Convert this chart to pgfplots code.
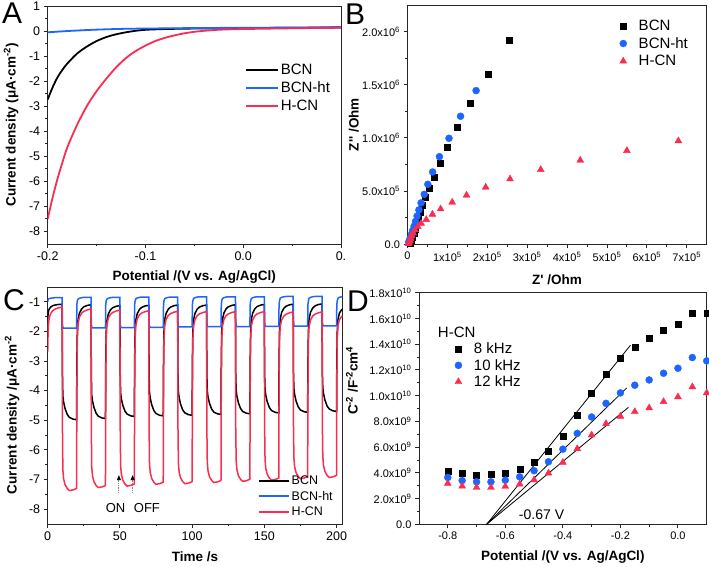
\documentclass[border=0pt]{standalone}
\usepackage{fontspec}
\setmainfont{Liberation Sans}
\usepackage{pgfplots}
\pgfplotsset{compat=1.18}
\usepackage{pgfplotstable}
\usetikzlibrary{arrows.meta}
\definecolor{cblue}{RGB}{30,100,255}
\definecolor{cred}{RGB}{250,45,80}

\pgfplotstableread{
x y
-0.200 -2.73
-0.195 -2.25
-0.190 -1.85
-0.185 -1.55
-0.180 -1.30
-0.170 -0.90
-0.160 -0.62
-0.150 -0.40
-0.140 -0.24
-0.130 -0.13
-0.120 -0.05
-0.110 0.01
-0.100 0.05
-0.080 0.08
-0.050 0.10
0.000 0.12
0.050 0.13
0.100 0.14
}\Abcn
\pgfplotstableread{
x y
-0.200 -0.05
-0.180 0.00
-0.160 0.04
-0.140 0.07
-0.120 0.09
-0.100 0.10
-0.050 0.12
0.000 0.13
0.050 0.14
0.100 0.16
}\Aht
\pgfplotstableread{
x y
-0.200 -7.50
-0.195 -6.65
-0.190 -5.90
-0.185 -5.25
-0.180 -4.65
-0.170 -3.75
-0.160 -3.00
-0.150 -2.40
-0.140 -1.90
-0.130 -1.45
-0.120 -1.08
-0.110 -0.80
-0.100 -0.58
-0.090 -0.40
-0.080 -0.27
-0.070 -0.17
-0.060 -0.09
-0.050 -0.03
-0.040 0.01
-0.030 0.04
-0.020 0.06
0.000 0.08
0.050 0.11
0.100 0.13
}\Ahcn

\pgfplotstableread{
x y
2.54e5 1.915e6
2.02e5 1.602e6
1.58e5 1.323e6
1.24e5 1.097e6
1.00e5 0.915e6
0.82e5 0.762e6
0.67e5 0.630e6
0.55e5 0.527e6
0.45e5 0.442e6
0.38e5 0.370e6
0.32e5 0.301e6
0.27e5 0.245e6
0.225e5 0.190e6
0.19e5 0.140e6
0.16e5 0.100e6
0.125e5 0.066e6
0.09e5 0.034e6
0.06e5 0.012e6
}\Bbcn
\pgfplotstableread{
x y
1.72e5 1.445e6
1.33e5 1.204e6
1.04e5 0.997e6
0.80e5 0.824e6
0.63e5 0.680e6
0.51e5 0.564e6
0.42e5 0.470e6
0.34e5 0.389e6
0.285e5 0.323e6
0.24e5 0.266e6
0.20e5 0.215e6
0.165e5 0.170e6
0.13e5 0.130e6
0.10e5 0.095e6
0.075e5 0.065e6
0.05e5 0.040e6
0.03e5 0.020e6
}\Bht
\pgfplotstableread{
x y
6.79e5 0.972e6
5.50e5 0.881e6
4.33e5 0.790e6
3.34e5 0.702e6
2.57e5 0.614e6
1.96e5 0.536e6
1.48e5 0.461e6
1.12e5 0.395e6
0.83e5 0.332e6
0.625e5 0.282e6
0.47e5 0.232e6
0.34e5 0.197e6
0.26e5 0.165e6
0.19e5 0.135e6
0.14e5 0.105e6
0.10e5 0.080e6
0.075e5 0.055e6
0.06e5 0.035e6
0.04e5 0.018e6
0.025e5 0.005e6
}\Bhcn

\pgfplotstableread{
t blue black red
0 -1.00 -1.60 -2.70
0.2 -0.93 -1.45 -2.20
0.5 -0.90 -1.32 -1.80
1 -0.89 -1.25 -1.55
2 -0.88 -1.18 -1.40
3.5 -0.87 -1.13 -1.30
5 -0.86 -1.11 -1.25
7.5 -0.86 -1.09 -1.20
10 -0.86 -1.08 -1.18
10.2 -1.74 -3.40 -5.20
10.5 -1.86 -4.18 -6.67
11 -1.89 -4.38 -6.97
12 -1.89 -4.60 -7.17
13.5 -1.89 -4.80 -7.30
15 -1.89 -4.90 -7.37
17.5 -1.89 -4.96 -7.35
20 -1.89 -4.98 -7.30
20.2 -1.10 -3.00 -4.00
20.5 -0.97 -2.00 -2.30
21 -0.91 -1.60 -1.74
22 -0.88 -1.38 -1.51
23.5 -0.86 -1.24 -1.38
25 -0.85 -1.17 -1.32
27.5 -0.85 -1.12 -1.27
30 -0.85 -1.10 -1.24
30.2 -1.73 -3.40 -5.20
30.5 -1.85 -4.14 -6.57
31 -1.88 -4.34 -6.87
32 -1.88 -4.56 -7.07
33.5 -1.88 -4.76 -7.20
35 -1.88 -4.86 -7.27
37.5 -1.88 -4.92 -7.25
40 -1.88 -4.94 -7.20
40.2 -1.10 -3.00 -4.00
40.5 -0.97 -2.00 -2.30
41 -0.91 -1.63 -1.78
42 -0.88 -1.41 -1.55
43.5 -0.86 -1.27 -1.42
45 -0.85 -1.20 -1.36
47.5 -0.85 -1.15 -1.31
50 -0.85 -1.13 -1.28
50.2 -1.72 -3.40 -5.20
50.5 -1.84 -4.07 -6.52
51 -1.87 -4.27 -6.82
52 -1.87 -4.49 -7.02
53.5 -1.87 -4.69 -7.15
55 -1.87 -4.79 -7.22
57.5 -1.87 -4.85 -7.20
60 -1.87 -4.87 -7.15
60.2 -1.10 -3.00 -4.00
60.5 -0.97 -2.00 -2.30
61 -0.90 -1.62 -1.80
62 -0.87 -1.40 -1.57
63.5 -0.85 -1.26 -1.44
65 -0.84 -1.19 -1.38
67.5 -0.84 -1.14 -1.33
70 -0.84 -1.12 -1.30
70.2 -1.71 -3.40 -5.20
70.5 -1.83 -4.05 -6.46
71 -1.86 -4.25 -6.76
72 -1.86 -4.47 -6.96
73.5 -1.86 -4.67 -7.09
75 -1.86 -4.77 -7.16
77.5 -1.86 -4.83 -7.14
80 -1.86 -4.85 -7.09
80.2 -1.10 -3.00 -4.00
80.5 -0.97 -2.00 -2.30
81 -0.90 -1.61 -1.82
82 -0.87 -1.39 -1.59
83.5 -0.85 -1.25 -1.46
85 -0.84 -1.18 -1.40
87.5 -0.84 -1.13 -1.35
90 -0.84 -1.11 -1.32
90.2 -1.70 -3.40 -5.20
90.5 -1.82 -4.03 -6.44
91 -1.85 -4.23 -6.74
92 -1.85 -4.45 -6.94
93.5 -1.85 -4.65 -7.07
95 -1.85 -4.75 -7.14
97.5 -1.85 -4.81 -7.12
100 -1.85 -4.83 -7.07
100.2 -1.10 -3.00 -4.00
100.5 -0.97 -2.00 -2.30
101 -0.89 -1.61 -1.83
102 -0.86 -1.39 -1.60
103.5 -0.84 -1.25 -1.47
105 -0.83 -1.18 -1.41
107.5 -0.83 -1.13 -1.36
110 -0.83 -1.11 -1.33
110.2 -1.69 -3.40 -5.20
110.5 -1.81 -4.00 -6.40
111 -1.84 -4.20 -6.70
112 -1.84 -4.42 -6.90
113.5 -1.84 -4.62 -7.03
115 -1.84 -4.72 -7.10
117.5 -1.84 -4.78 -7.08
120 -1.84 -4.80 -7.03
120.2 -1.10 -3.00 -4.00
120.5 -0.97 -2.00 -2.30
121 -0.89 -1.60 -1.83
122 -0.86 -1.38 -1.60
123.5 -0.84 -1.24 -1.47
125 -0.83 -1.17 -1.41
127.5 -0.83 -1.12 -1.36
130 -0.83 -1.10 -1.33
130.2 -1.69 -3.40 -5.20
130.5 -1.81 -3.98 -6.36
131 -1.84 -4.18 -6.66
132 -1.84 -4.40 -6.86
133.5 -1.84 -4.60 -6.99
135 -1.84 -4.70 -7.06
137.5 -1.84 -4.76 -7.04
140 -1.84 -4.78 -6.99
140.2 -1.10 -3.00 -4.00
140.5 -0.97 -2.00 -2.30
141 -0.89 -1.59 -1.83
142 -0.86 -1.37 -1.60
143.5 -0.84 -1.23 -1.47
145 -0.83 -1.16 -1.41
147.5 -0.83 -1.11 -1.36
150 -0.83 -1.09 -1.33
150.2 -1.68 -3.40 -5.20
150.5 -1.80 -3.95 -6.32
151 -1.83 -4.15 -6.62
152 -1.83 -4.37 -6.82
153.5 -1.83 -4.57 -6.95
155 -1.83 -4.67 -7.02
157.5 -1.83 -4.73 -7.00
160 -1.83 -4.75 -6.95
160.2 -1.10 -3.00 -4.00
160.5 -0.97 -2.00 -2.30
161 -0.88 -1.58 -1.84
162 -0.85 -1.36 -1.61
163.5 -0.83 -1.22 -1.48
165 -0.82 -1.15 -1.42
167.5 -0.82 -1.10 -1.37
170 -0.82 -1.08 -1.34
170.2 -1.67 -3.40 -5.20
170.5 -1.79 -3.93 -6.27
171 -1.82 -4.13 -6.57
172 -1.82 -4.35 -6.77
173.5 -1.82 -4.55 -6.90
175 -1.82 -4.65 -6.97
177.5 -1.82 -4.71 -6.95
180 -1.82 -4.73 -6.90
180.2 -1.10 -3.00 -4.00
180.5 -0.97 -2.00 -2.30
181 -0.88 -1.57 -1.84
182 -0.85 -1.35 -1.61
183.5 -0.83 -1.21 -1.48
185 -0.82 -1.14 -1.42
187.5 -0.82 -1.09 -1.37
190 -0.82 -1.07 -1.34
190.2 -1.66 -3.40 -5.20
190.5 -1.78 -3.90 -6.23
191 -1.81 -4.10 -6.53
192 -1.81 -4.32 -6.73
193.5 -1.81 -4.52 -6.86
195 -1.81 -4.62 -6.93
197.5 -1.81 -4.68 -6.91
200 -1.81 -4.70 -6.86
200.2 -1.10 -3.00 -4.00
200.5 -0.97 -2.00 -2.30
201 -0.88 -1.60 -1.80
202 -0.85 -1.38 -1.60
203.5 -0.83 -1.27 -1.50
204 -0.83 -1.25 -1.47
}\Cdata

\pgfplotstableread{
x black blue red
-0.80 4.13e9 3.64e9 3.17e9
-0.75 3.95e9 3.40e9 2.96e9
-0.70 3.84e9 3.30e9 2.86e9
-0.65 3.87e9 3.30e9 2.86e9
-0.60 4.00e9 3.43e9 2.94e9
-0.55 4.29e9 3.69e9 3.12e9
-0.50 4.81e9 4.16e9 3.45e9
-0.45 5.66e9 4.86e9 3.97e9
-0.40 6.88e9 5.84e9 4.81e9
-0.35 8.47e9 7.06e9 5.87e9
-0.30 1.018e10 8.34e9 6.94e9
-0.25 1.169e10 9.40e9 7.82e9
-0.20 1.291e10 1.021e10 8.39e9
-0.15 1.379e10 1.081e10 8.75e9
-0.10 1.444e10 1.122e10 9.04e9
-0.05 1.512e10 1.174e10 9.53e9
0.00 1.558e10 1.213e10 9.90e9
0.05 1.639e10 1.296e10 1.068e10
0.10 1.639e10 1.270e10 1.021e10
}\Ddata

\pgfplotsset{
  panel/.style={
    scale only axis,
    axis line style={line width=0.9pt,black!85},
    tick align=outside, xtick pos=left, ytick pos=left,
    major tick length=4pt, minor tick length=2.5pt,
    tick style={line width=0.9pt,black!85},
    minor x tick num=1, minor y tick num=1,
    scaled ticks=false,
    /pgf/number format/assume math mode=true,
    label style={font=\bfseries\fontsize{13.5}{16}\selectfont},
    legend cell align=left,
  },
  bigticks/.style={tick label style={font=\fontsize{12.5}{14}\selectfont}},
  smallticks/.style={tick label style={font=\fontsize{11}{13}\selectfont}},
  linelegend/.style={legend image code/.code={\draw[##1, line width=2pt] (0pt,0pt) -- (#1,0pt);}},
  marklegend/.style={legend image code/.code={\path[draw=none,fill=none] (-4pt,-3pt) rectangle (17pt,3pt); \draw[##1] plot coordinates {(3pt,0pt)};}},
}

\begin{document}
\begin{tikzpicture}[x=1pt,y=1pt]
\useasboundingbox (0,0) rectangle (709,567);

% ---------------- A
\begin{axis}[panel, bigticks,
  at={(47.7pt,323pt)}, anchor=south west,
  width=293.3pt, height=238pt,
  xmin=-0.2, xmax=0.1, ymin=-8.5, ymax=1,
  xtick={-0.2,-0.1,0,0.1}, xticklabels={-0.2,-0.1,0.0,0.},
  ytick={-8,-7,...,1},
  xlabel={Potential /(V vs. Ag/AgCl)},
  ylabel={Current density (μA·cm\textsuperscript{-2})},
  xlabel style={at={(axis description cs:0.5,-0.139)}, anchor=center},
  ylabel style={at={(axis description cs:-0.125,0.5)}, anchor=center},
  legend style={at={(axis description cs:0.673,0.765)}, anchor=north west,
    draw=none, fill=none, font=\fontsize{15}{17}\selectfont,
    inner sep=0pt, nodes={inner sep=1.5pt}, row sep=3.2pt},
  linelegend=32pt,
]
\addplot[black, line width=1.8pt, smooth] table {\Abcn};
\addlegendentry{BCN}
\addplot[cblue, line width=1.8pt, smooth] table {\Aht};
\addlegendentry{BCN-ht}
\addplot[cred, line width=1.8pt, smooth] table {\Ahcn};
\addlegendentry{H-CN}
\end{axis}

% ---------------- B
\begin{axis}[panel, smallticks,
  at={(407.5pt,322.7pt)}, anchor=south west,
  width=299.2pt, height=239.3pt,
  xmin=0, xmax=7.5e5, ymin=0, ymax=2.25e6,
  xtick={0,1e5,2e5,3e5,4e5,5e5,6e5,7e5},
  xticklabels={0,1x10\textsuperscript{5},2x10\textsuperscript{5},3x10\textsuperscript{5},4x10\textsuperscript{5},5x10\textsuperscript{5},6x10\textsuperscript{5},7x10\textsuperscript{5}},
  ytick={0,5e5,1e6,1.5e6,2e6},
  yticklabels={0.0,5.0x10\textsuperscript{5},1.0x10\textsuperscript{6},1.5x10\textsuperscript{6},2.0x10\textsuperscript{6}},
  xlabel={Z\textquotesingle\ /Ohm},
  ylabel={Z\textquotesingle\textquotesingle\ /Ohm},
  xlabel style={at={(axis description cs:0.5,-0.149)}, anchor=center},
  ylabel style={at={(axis description cs:-0.179,0.5)}, anchor=center},
  legend style={at={(axis description cs:0.697,0.945)}, anchor=north west,
    draw=none, fill=none, font=\fontsize{15}{17}\selectfont,
    inner sep=0pt, nodes={inner sep=1.5pt}, row sep=2.5pt},
  marklegend,
]
\addplot[only marks, mark=square*, mark size=3pt, black] table {\Bbcn};
\addlegendentry{BCN}
\addplot[only marks, mark=*, mark size=3.5pt, cblue] table {\Bht};
\addlegendentry{BCN-ht}
\addplot[only marks, mark=triangle*, mark size=4pt, cred] table {\Bhcn};
\addlegendentry{H-CN}
\end{axis}

% ---------------- C
\begin{axis}[panel, bigticks,
  at={(47.7pt,43pt)}, anchor=south west,
  width=294.6pt, height=237pt,
  xmin=0, xmax=204, ymin=-8.5, ymax=-0.5,
  xtick={0,50,100,150,200}, ytick={-8,-7,...,-1},
  xlabel={Time /s},
  ylabel={Current density /μA·cm\textsuperscript{-2}},
  xlabel style={at={(axis description cs:0.5,-0.139)}, anchor=center},
  ylabel style={at={(axis description cs:-0.121,0.46)}, anchor=center},
  legend style={at={(axis description cs:0.714,0.21)}, anchor=north west,
    draw=none, fill=none, font=\fontsize{12.5}{14}\selectfont,
    inner sep=0pt, nodes={inner sep=1.5pt}, row sep=2pt},
  linelegend=30pt,
]
\addplot[black, line width=1.5pt] table[x=t,y=black] {\Cdata};
\addlegendentry{BCN}
\addplot[cblue, line width=1.5pt] table[x=t,y=blue] {\Cdata};
\addlegendentry{BCN-ht}
\addplot[cred, line width=1.5pt] table[x=t,y=red] {\Cdata};
\addlegendentry{H-CN}
\draw[densely dotted, gray, line width=0.8pt, -{Triangle[length=5pt,width=4pt,black]}] (axis cs:49.3,-7.45) -- (axis cs:49.3,-6.85);
\draw[densely dotted, gray, line width=0.8pt, -{Triangle[length=5pt,width=4pt,black]}] (axis cs:58.8,-7.45) -- (axis cs:58.8,-6.85);
\node[font=\fontsize{13}{15}\selectfont] at (axis cs:47,-7.95) {ON};
\node[font=\fontsize{13}{15}\selectfont] at (axis cs:68.7,-7.95) {OFF};
\end{axis}

% ---------------- D
\begin{axis}[panel, smallticks,
  at={(419pt,42.7pt)}, anchor=south west,
  width=287.7pt, height=231.6pt,
  xmin=-0.9, xmax=0.1, ymin=0, ymax=1.8e10,
  xtick={-0.8,-0.6,-0.4,-0.2,0}, xticklabels={-0.8,-0.6,-0.4,-0.2,0.0},
  ytick={0,2e9,4e9,6e9,8e9,1e10,1.2e10,1.4e10,1.6e10,1.8e10},
  yticklabels={0.0,2.0x10\textsuperscript{9},4.0x10\textsuperscript{9},6.0x10\textsuperscript{9},8.0x10\textsuperscript{9},1.0x10\textsuperscript{10},1.2x10\textsuperscript{10},1.4x10\textsuperscript{10},1.6x10\textsuperscript{10},1.8x10\textsuperscript{10}},
  xlabel={Potential /(V vs. Ag/AgCl)},
  ylabel={C\textsuperscript{-2} /F\textsuperscript{-2}cm\textsuperscript{4}},
  xlabel style={at={(axis description cs:0.5,-0.142)}, anchor=center},
  ylabel style={at={(axis description cs:-0.233,0.62)}, anchor=center},
  legend style={at={(axis description cs:0.112,0.86)}, anchor=north west,
    draw=none, fill=none, font=\fontsize{15}{17}\selectfont,
    inner sep=0pt, nodes={inner sep=1.5pt}, row sep=1pt},
  marklegend,
]
\addlegendimage{empty legend}
\addlegendentry{\hspace*{-36pt}H-CN}
\addplot[only marks, mark=square*, mark size=3pt, black] table[x=x,y=black] {\Ddata};
\addlegendentry{8 kHz}
\addplot[only marks, mark=*, mark size=3.5pt, cblue] table[x=x,y=blue] {\Ddata};
\addlegendentry{10 kHz}
\addplot[only marks, mark=triangle*, mark size=4pt, cred] table[x=x,y=red] {\Ddata};
\addlegendentry{12 kHz}
\addplot[black, line width=0.8pt, forget plot] coordinates {(-0.665,0) (-0.165,1.392e10)};
\addplot[black, line width=0.8pt, forget plot] coordinates {(-0.665,0) (-0.178,1.06e10)};
\addplot[black, line width=0.8pt, forget plot] coordinates {(-0.665,0) (-0.172,0.909e10)};
\node[font=\fontsize{14}{16}\selectfont] at (axis cs:-0.474,0.73e9) {-0.67 V};
\end{axis}

\node[anchor=base west, font=\fontsize{30}{30}\selectfont, inner sep=0pt] at (2,543) {A};
\node[anchor=base west, font=\fontsize{30}{30}\selectfont, inner sep=0pt] at (345,542) {B};
\node[anchor=base west, font=\fontsize{30}{30}\selectfont, inner sep=0pt] at (3,256) {C};
\node[anchor=base west, font=\fontsize{30}{30}\selectfont, inner sep=0pt] at (347,255) {D};
\end{tikzpicture}
\end{document}
